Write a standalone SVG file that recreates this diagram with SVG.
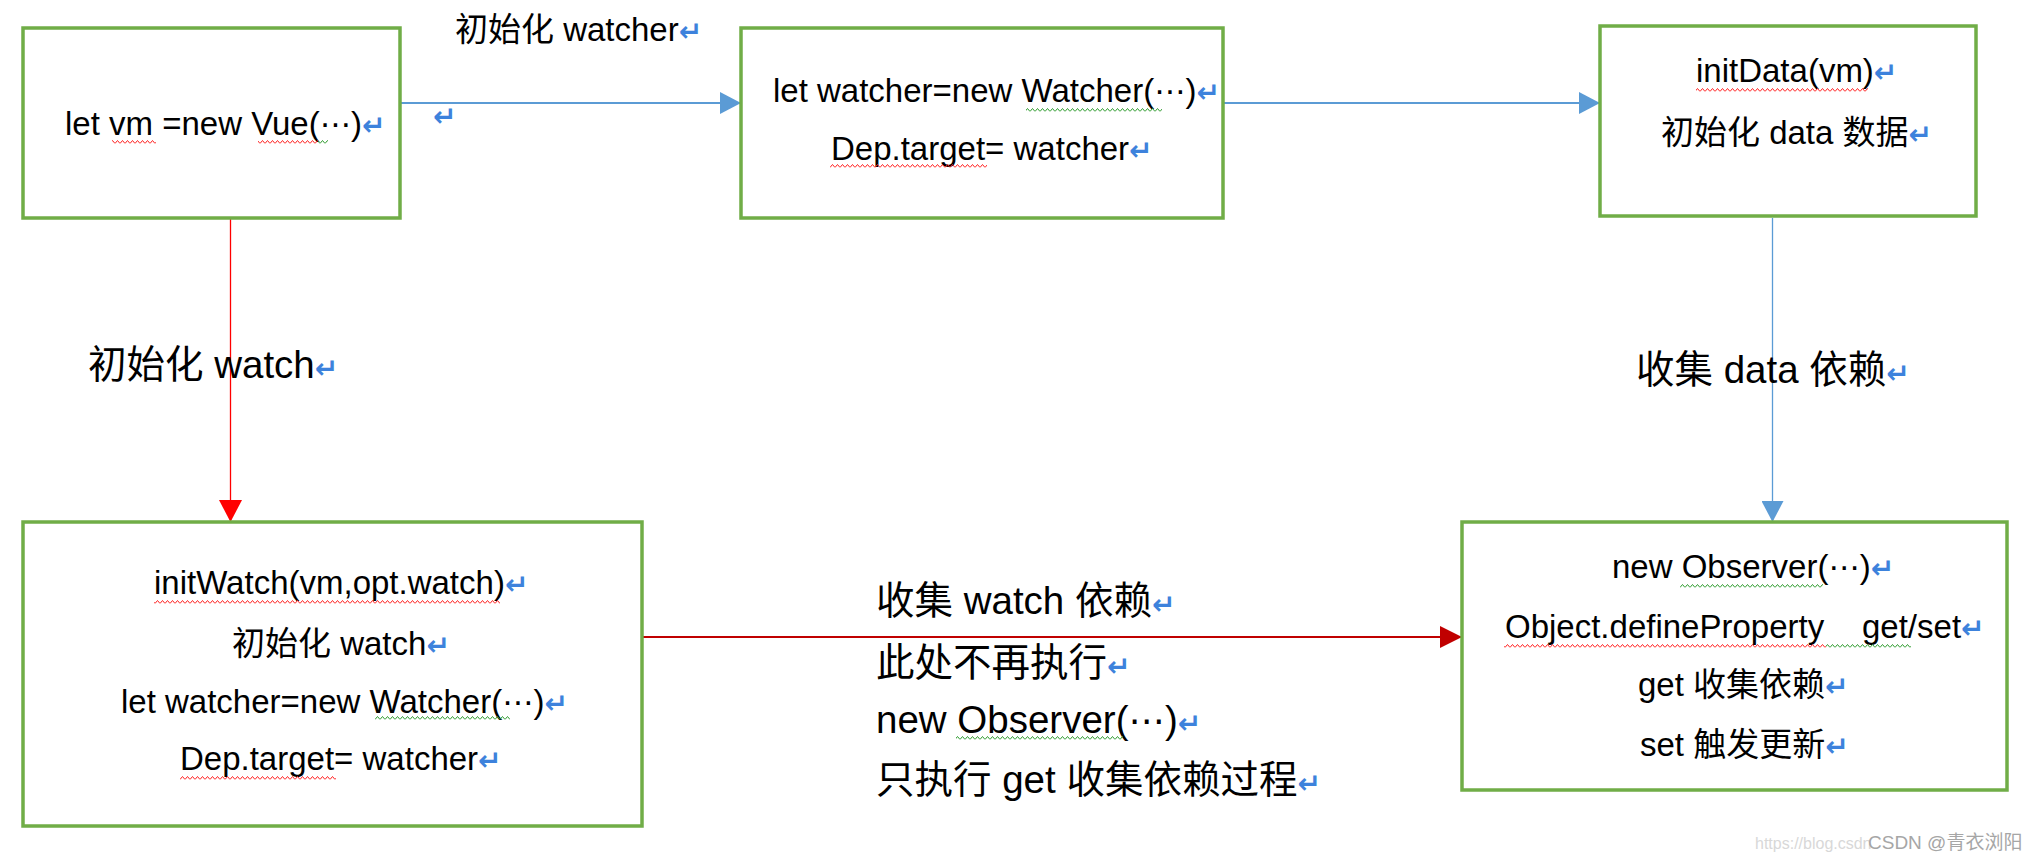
<svg xmlns="http://www.w3.org/2000/svg" width="2036" height="862" viewBox="0 0 2036 862">
<style>
.box{fill:#fff;stroke:#70AD47;stroke-width:3.5}
.t{font-family:"Liberation Sans","Noto Sans CJK SC",sans-serif;fill:#000}
.s33{font-size:33px}
.s38{font-size:38.5px}
.ret{font-family:"DejaVu Sans",sans-serif;font-weight:bold;fill:#3D82DC;font-size:28px}
.ell{font-family:"DejaVu Sans",sans-serif;font-size:0.95em}
.wr{fill:url(#wr)}
.wg{fill:url(#wg)}
</style>
<defs>
<pattern id="wr" width="5" height="4" patternUnits="userSpaceOnUse"><path d="M0 3.5 L2.5 0.5 L5 3.5" fill="none" stroke="#FF2020" stroke-width="1"/></pattern>
<pattern id="wg" width="5" height="4" patternUnits="userSpaceOnUse"><path d="M0 3.5 L2.5 0.5 L5 3.5" fill="none" stroke="#2E9A2E" stroke-width="1"/></pattern>
<marker id="ab" markerUnits="userSpaceOnUse" markerWidth="22" markerHeight="22" refX="21" refY="11" orient="auto"><path d="M0 0 L21 11 L0 22 Z" fill="#5B9BD5"/></marker>
<marker id="ar" markerUnits="userSpaceOnUse" markerWidth="24" markerHeight="24" refX="22" refY="11.5" orient="auto"><path d="M0 0 L22 11.5 L0 23 Z" fill="#FF0000"/></marker>
<marker id="ad" markerUnits="userSpaceOnUse" markerWidth="24" markerHeight="24" refX="22" refY="11" orient="auto"><path d="M0 0 L22 11 L0 22 Z" fill="#C00000"/></marker>
</defs>
<rect width="2036" height="862" fill="#fff"/>

<g id="connectors">
<line x1="400" y1="103" x2="741" y2="103" stroke="#5B9BD5" stroke-width="1.8" marker-end="url(#ab)"/>
<line x1="1223" y1="103" x2="1600" y2="103" stroke="#5B9BD5" stroke-width="1.8" marker-end="url(#ab)"/>
<line x1="1772.5" y1="218" x2="1772.5" y2="522" stroke="#5B9BD5" stroke-width="1.3" marker-end="url(#ab)"/>
<line x1="230.5" y1="218" x2="230.5" y2="522" stroke="#FF0000" stroke-width="1.3" marker-end="url(#ar)"/>
<line x1="642" y1="637" x2="1462" y2="637" stroke="#C00000" stroke-width="2" marker-end="url(#ad)"/>
</g>

<g id="label-init-watcher">
<text class="t s33" x="455" y="41">初始化 watcher<tspan class="ret">↵</tspan></text>
<text class="ret" x="433" y="126">↵</text>
</g>
<g id="label-init-watch">
<text class="t s38" x="88" y="378">初始化 watch<tspan class="ret">↵</tspan></text>
</g>
<g id="label-collect-data">
<text class="t s38" x="1636" y="383">收集 data 依赖<tspan class="ret">↵</tspan></text>
</g>
<g id="label-collect-watch">
<text class="t s38" x="876" y="614">收集 watch 依赖<tspan class="ret">↵</tspan></text>
<text class="t s38" x="876" y="676">此处不再执行<tspan class="ret">↵</tspan></text>
<text class="t s38" x="876" y="733">new Observer(<tspan class="ell">⋯</tspan>)<tspan class="ret">↵</tspan></text>
<text class="t s38" x="876" y="793">只执行 get 收集依赖过程<tspan class="ret">↵</tspan></text>
<rect class="wg" x="956" y="736" width="167" height="4"/>
</g>

<g id="node-vue">
<rect class="box" x="23" y="28" width="377" height="190"/>
<text class="t s33" x="65" y="135">let vm =new Vue(<tspan class="ell">⋯</tspan>)<tspan class="ret">↵</tspan></text>
<rect class="wr" x="112" y="140" width="44" height="4"/>
<rect class="wr" x="258" y="140" width="60" height="4"/>
<rect class="wg" x="318" y="140" width="10" height="4"/>
</g>

<g id="node-watcher">
<rect class="box" x="741" y="28" width="482" height="190"/>
<text class="t s33" x="773" y="102">let watcher=new Watcher(<tspan class="ell">⋯</tspan>)<tspan class="ret">↵</tspan></text>
<text class="t s33" x="831" y="160">Dep.target= watcher<tspan class="ret">↵</tspan></text>
<rect class="wg" x="1026" y="108" width="136" height="4"/>
<rect class="wr" x="830" y="164" width="157" height="4"/>
</g>

<g id="node-initdata">
<rect class="box" x="1600" y="26" width="376" height="190"/>
<text class="t s33" x="1696" y="82">initData(vm)<tspan class="ret">↵</tspan></text>
<text class="t s33" x="1661" y="144">初始化 data 数据<tspan class="ret">↵</tspan></text>
<rect class="wr" x="1696" y="88" width="172" height="4"/>
</g>

<g id="node-initwatch">
<rect class="box" x="23" y="522" width="619" height="304"/>
<text class="t s33" x="154" y="594">initWatch(vm,opt.watch)<tspan class="ret">↵</tspan></text>
<text class="t s33" x="232" y="655">初始化 watch<tspan class="ret">↵</tspan></text>
<text class="t s33" x="121" y="713">let watcher=new Watcher(<tspan class="ell">⋯</tspan>)<tspan class="ret">↵</tspan></text>
<text class="t s33" x="180" y="770">Dep.target= watcher<tspan class="ret">↵</tspan></text>
<rect class="wr" x="154" y="600" width="346" height="4"/>
<rect class="wg" x="375" y="716" width="135" height="4"/>
<rect class="wr" x="180" y="776" width="156" height="4"/>
</g>

<g id="node-observer">
<rect class="box" x="1462" y="522" width="545" height="268"/>
<text class="t s33" x="1612" y="578">new Observer(<tspan class="ell">⋯</tspan>)<tspan class="ret">↵</tspan></text>
<text class="t s33" x="1505" y="638">Object.defineProperty</text>
<text class="t s33" x="1862" y="638">get/set<tspan class="ret">↵</tspan></text>
<text class="t s33" x="1638" y="696">get 收集依赖<tspan class="ret">↵</tspan></text>
<text class="t s33" x="1640" y="756">set 触发更新<tspan class="ret">↵</tspan></text>
<rect class="wg" x="1680" y="584" width="143" height="4"/>
<rect class="wr" x="1504" y="644" width="322" height="4"/>
<rect class="wg" x="1826" y="644" width="85" height="4"/>
</g>

<g id="watermark">
<text x="1755" y="849" font-family="Liberation Sans,sans-serif" font-size="16" fill="#d8d8d8">https://blog.csdn</text>
<text x="1868" y="849" font-family="Liberation Sans,Noto Sans CJK SC,sans-serif" font-size="19" fill="#a6a6a6">CSDN @青衣浏阳</text>
</g>
</svg>
